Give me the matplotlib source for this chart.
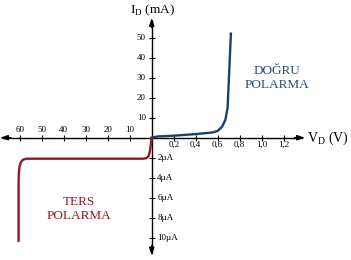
import numpy as np
import matplotlib
matplotlib.use("Agg")
from matplotlib import pyplot as plt

plt.rcParams['font.family'] = ['Liberation Serif', 'DejaVu Serif']
plt.rcParams['mathtext.fontset'] = 'custom'
plt.rcParams['mathtext.rm'] = 'Liberation Serif'

# forward bias: V (volts), I (mA)
fwd_v = [0, 0.05, 0.2, 0.4, 0.55, 0.6, 0.64, 0.67, 0.69, 0.72]
fwd_i = [0, 0.6, 1.0, 1.8, 2.6, 3.4, 5.5, 9.0, 15, 52]
# reverse bias: V (volts), I (uA)
rev_v = [0, -0.3, -0.7, -1.1, -1.6, -2.5, -4, -10, -50, -57, -58.5, -59.5, -60.1, -60.4, -60.5, -60.5]
rev_i = [0, -0.5, -1.2, -1.6, -1.9, -2.05, -2.1, -2.1, -2.1, -2.1, -2.2, -2.45, -2.9, -3.6, -4.5, -10.3]

pos_v_ticks = [0.2, 0.4, 0.6, 0.8, 1.0, 1.2]
pos_v_labels = ['0,2', '0,4', '0,6', '0,8', '1,0', '1,2']
neg_v_ticks = [-10, -20, -30, -40, -50, -60]
pos_i_ticks = [10, 20, 30, 40, 50]
neg_i_ticks = [-2, -4, -6, -8, -10]

blue = '#1b3f6e'
red = '#8c1b26'


# piecewise scales: one tick step = one unit
def sx(v):
    v = np.asarray(v, dtype=float)
    return np.where(v >= 0, v / 0.2, v / 10.0)


def sy(i, micro=False):
    i = np.asarray(i, dtype=float)
    return i / 2.0 if micro else i / 10.0


fig = plt.figure(figsize=(3.51, 2.60), dpi=100)
ax = fig.add_axes([0, 0, 1, 1])
ax.set_xlim(-151.7 / 22, (351 - 151.7) / 22)
ax.set_ylim(-(260 - 137.7) / 20, 137.7 / 20)
ax.axis('off')

# axes with arrows
ax.plot([-6.75, 6.85], [0, 0], color='black', lw=1)
ax.plot([0, 0], [-5.75, 5.85], color='black', lw=1)
for tip, tail in [((6.97, 0), (6.5, 0)), ((-6.9, 0), (-6.4, 0)),
                  ((0, 5.99), (0, 5.5)), ((0, -5.9), (0, -5.4))]:
    ax.annotate('', xy=tip, xytext=tail,
                arrowprops=dict(arrowstyle='-|>,head_length=0.45,head_width=0.15',
                                color='black', lw=1, shrinkA=0, shrinkB=0))

# tick marks
ax.plot(sx(pos_v_ticks + neg_v_ticks), np.zeros(12), '|', color='black', ms=5, mew=0.8)
ax.plot(np.zeros(10), np.concatenate([sy(pos_i_ticks), sy(neg_i_ticks, True)]), '_',
        color='black', ms=5, mew=0.8)

for v, lab in zip(pos_v_ticks, pos_v_labels):
    ax.text(sx(v), -0.18, lab, ha='center', va='top', fontsize=6.5)
for v in neg_v_ticks:
    ax.text(sx(v), 0.18, str(-v), ha='center', va='bottom', fontsize=6.5)
for i in pos_i_ticks:
    ax.text(-0.27, sy(i), str(i), ha='right', va='center', fontsize=6.5)
for i in neg_i_ticks:
    ax.text(0.25, sy(i, True), str(-i) + 'µA', ha='left', va='center', fontsize=6.5)

# curves
ax.plot(sx(fwd_v), sy(fwd_i), color=blue, lw=1.7, solid_joinstyle='round')
ax.plot(sx(rev_v), sy(rev_i, True), color=red, lw=1.7, solid_joinstyle='round')

# labels
ax.text(0.02, 6.38, 'I$_{\\mathrm{D}}$ (mA)', ha='center', va='center', fontsize=9.5)
ax.text(7.05, -0.05, 'V$_{\\mathrm{D}}$ (V)', ha='left', va='center', fontsize=10)
ax.text(5.7, 3.0, 'DOĞRU\nPOLARMA', ha='center', va='center', fontsize=9.5,
        color='#2a4b7c', linespacing=1.2)
ax.text(-3.3, -3.55, 'TERS\nPOLARMA', ha='center', va='center', fontsize=9.5,
        color=red, linespacing=1.2)

fig.savefig('out.png', dpi=100)
